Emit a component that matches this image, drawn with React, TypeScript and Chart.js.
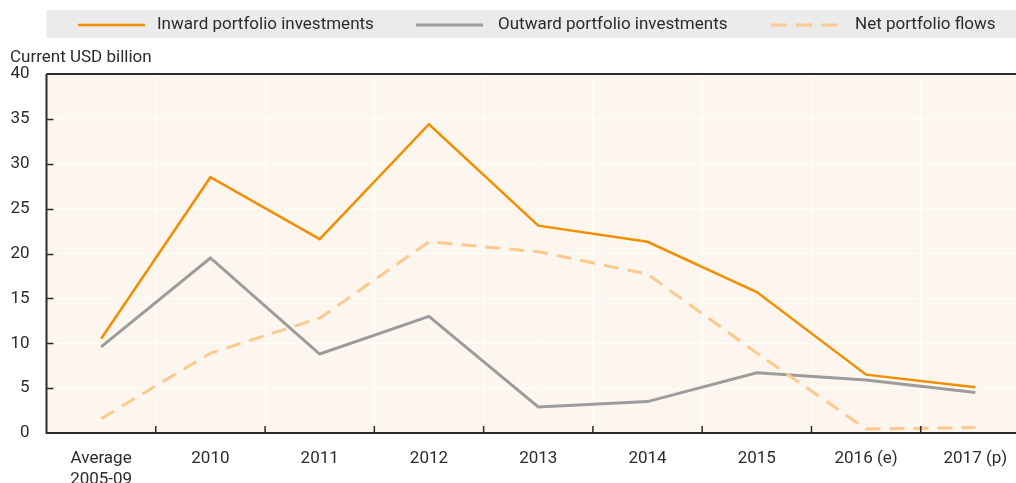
import React, { useEffect, useRef } from "react";
import { Chart, registerables } from "chart.js";

Chart.register(...registerables);

const categories: (string | string[])[] = [
  ["Average", "2005-09"],
  "2010",
  "2011",
  "2012",
  "2013",
  "2014",
  "2015",
  "2016 (e)",
  "2017 (p)",
];
const inward = [10.5, 28.5, 21.6, 34.4, 23.1, 21.3, 15.7, 6.5, 5.1];
const outward = [9.6, 19.5, 8.8, 13.0, 2.9, 3.5, 6.7, 5.9, 4.5];
const netFlows = [1.6, 8.9, 12.8, 21.3, 20.2, 17.7, 8.9, 0.45, 0.6];
const yTicks = [0, 5, 10, 15, 20, 25, 30, 35, 40];
const seriesNames = ["Inward portfolio investments", "Outward portfolio investments", "Net portfolio flows"];
const yTitle = "Current USD billion";

const C_IN = "#F28E00";
const C_OUT = "#9C9C9C";
const C_NET = "#FDC98D";
const AXIS = "#2B2B2B";
const FONT = "Roboto";

const decor = {
  id: "decor",
  beforeDraw(chart: any) {
    const { ctx, chartArea: a } = chart;
    ctx.save();
    ctx.fillStyle = "#FDF6EF";
    ctx.fillRect(a.left, a.top, a.right - a.left, a.bottom - a.top);
    ctx.restore();
  },
  afterDraw(chart: any) {
    const { ctx, chartArea: a } = chart;
    const xs = chart.scales.x;
    const ys = chart.scales.y;
    ctx.save();
    ctx.strokeStyle = AXIS;
    ctx.lineWidth = 2;
    ctx.beginPath();
    ctx.moveTo(a.left, a.top);
    ctx.lineTo(1040, a.top);
    ctx.moveTo(a.left, a.top);
    ctx.lineTo(a.left, a.bottom);
    ctx.lineTo(1040, a.bottom);
    ctx.stroke();
    ctx.lineWidth = 1.5;
    ctx.beginPath();
    yTicks.forEach((v) => {
      if (v === 0 || v === 40) return;
      const y = Math.round(ys.getPixelForValue(v)) + 0.5;
      ctx.moveTo(a.left, y);
      ctx.lineTo(a.left + 7, y);
    });
    for (let i = 1; i < categories.length; i++) {
      const x = (xs.getPixelForValue(i - 1) + xs.getPixelForValue(i)) / 2;
      ctx.moveTo(x, a.bottom);
      ctx.lineTo(x, a.bottom - 7);
    }
    ctx.stroke();

    // legend
    ctx.fillStyle = "#EBEBEB";
    ctx.fillRect(a.left, 10, 1040 - a.left, 28);
    const items = [
      { x: 78, tx: 157, color: C_IN, dash: [] as number[], w: 2.5 },
      { x: 416, tx: 498, color: C_OUT, dash: [] as number[], w: 3 },
      { x: 771, tx: 855, color: C_NET, dash: [16, 9], w: 3 },
    ];
    ctx.font = `17px ${FONT}`;
    ctx.textBaseline = "middle";
    items.forEach((it, i) => {
      ctx.strokeStyle = it.color;
      ctx.lineWidth = it.w;
      ctx.setLineDash(it.dash);
      ctx.beginPath();
      ctx.moveTo(it.x, 25);
      ctx.lineTo(it.x + 67, 25);
      ctx.stroke();
      ctx.setLineDash([]);
      ctx.fillStyle = AXIS;
      ctx.fillText(seriesNames[i], it.tx, 25);
    });
    ctx.font = `17px ${FONT}`;
    ctx.textBaseline = "alphabetic";
    ctx.fillText(yTitle, 10, 62);
    ctx.restore();
  },
};

export default function App() {
  const ref = useRef<HTMLCanvasElement>(null);
  useEffect(() => {
    if (!ref.current) return;
    const chart = new Chart(ref.current, {
      type: "line",
      data: {
        labels: categories,
        datasets: [
          { label: seriesNames[2], data: netFlows, borderColor: C_NET, borderWidth: 3, borderDash: [15, 9], pointRadius: 0, fill: false, tension: 0 },
          { label: seriesNames[1], data: outward, borderColor: C_OUT, borderWidth: 3, pointRadius: 0, fill: false, tension: 0 },
          { label: seriesNames[0], data: inward, borderColor: C_IN, borderWidth: 2.5, pointRadius: 0, fill: false, tension: 0 },
        ],
      },
      plugins: [decor],
      options: {
        responsive: false,
        animation: false,
        layout: { padding: { top: 74, right: 10, bottom: 0, left: 0 } },
        plugins: { legend: { display: false }, tooltip: { enabled: false }, title: { display: false } },
        scales: {
          x: {
            type: "category",
            offset: true,
            grid: { offset: true, color: "#FFFFFF", lineWidth: 1, drawTicks: false },
            border: { display: false },
            ticks: { color: AXIS, font: { family: FONT, size: 17, lineHeight: 1.2 }, padding: 16, maxRotation: 0, autoSkip: false },
            afterFit: (s: any) => { s.height = 50; },
          },
          y: {
            min: 0,
            max: 40,
            grid: { color: "#FFFFFF", lineWidth: 1, drawTicks: false },
            border: { display: false },
            ticks: { stepSize: 5, color: AXIS, font: { family: FONT, size: 17 }, padding: 17 },
            afterFit: (s: any) => { s.width = 46.5; },
          },
        },
      },
    });
    return () => chart.destroy();
  }, []);
  return (
    <div style={{ position: "fixed", left: 0, top: 0, width: 1016, height: 483, overflow: "hidden", background: "#fff" }}>
      <canvas ref={ref} width={1040} height={483} style={{ display: "block", width: 1040, height: 483 }} />
    </div>
  );
}
